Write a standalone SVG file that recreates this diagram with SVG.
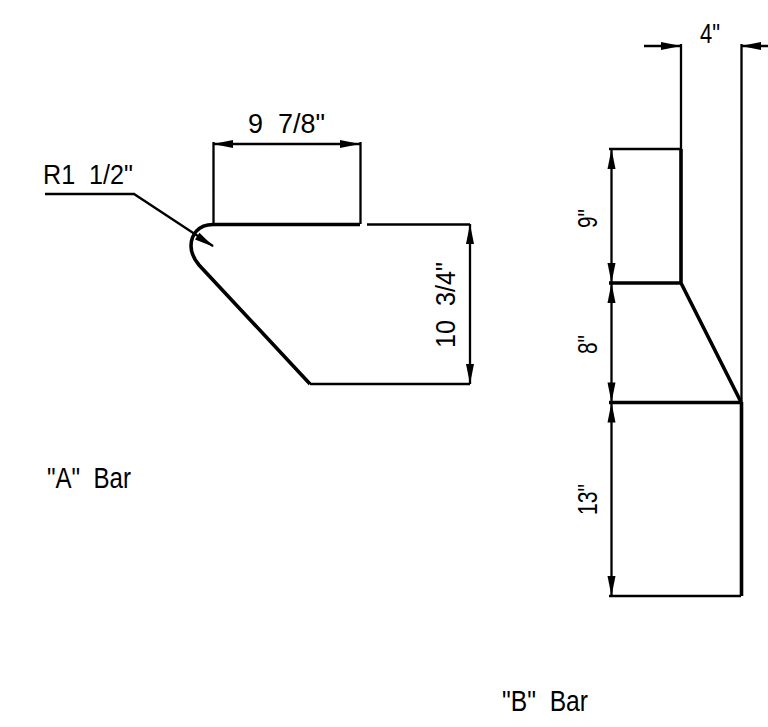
<svg xmlns="http://www.w3.org/2000/svg" width="768" height="727" viewBox="0 0 768 727">
<style>
.t{fill:none;stroke:#000;stroke-width:2.300}
.k{fill:none;stroke:#000;stroke-width:3.600}
.a{fill:#000;stroke:none}
text{font-family:"Liberation Sans",Arial,sans-serif;font-size:27px;fill:#000;white-space:pre}
.l{font-size:30px}
</style>
<defs>
<polygon id="ah" class="a" points="0,0 -20,-4 -20,4"/>
</defs>
<rect width="768" height="727" fill="#fff"/>
<g id="connectors">
<path class="t" d="M213.500 142V224M360.500 142V224M213 144H360M367 224.500H470M310 384H470M470 224V384M45 194H134L213 246"/>
<use href="#ah" transform="translate(213,144) rotate(180)"/>
<use href="#ah" transform="translate(360,144)"/>
<use href="#ah" transform="translate(470,224) rotate(-90)"/>
<use href="#ah" transform="translate(470,384) rotate(90)"/>
<use href="#ah" transform="translate(214,247) rotate(33)"/>
<path class="t" d="M681 44V149M741.500 44V402M644 46H681M768 46H741M609 149H681M611.500 149V596M609 596H741"/>
<use href="#ah" transform="translate(681,46)"/>
<use href="#ah" transform="translate(741,46) rotate(180)"/>
<use href="#ah" transform="translate(611.500,149) rotate(-90)"/>
<use href="#ah" transform="translate(611.500,283) rotate(90)"/>
<use href="#ah" transform="translate(611.500,283) rotate(-90)"/>
<use href="#ah" transform="translate(611.500,402.500) rotate(90)"/>
<use href="#ah" transform="translate(611.500,402.500) rotate(-90)"/>
<use href="#ah" transform="translate(611.500,596) rotate(90)"/>
</g>
<g id="bar-a">
<path class="k" d="M360 224.500H213C198 224.500 191 235 191 246C191 254 194 259 199 265L310 384"/>
<text x="248" y="133" textLength="77" lengthAdjust="spacingAndGlyphs">9  7/8"</text>
<text x="43" y="184" textLength="90" lengthAdjust="spacingAndGlyphs">R1  1/2"</text>
<text transform="translate(455,348) rotate(-90)" textLength="86" lengthAdjust="spacingAndGlyphs">10  3/4"</text>
<text class="l" x="47" y="488" textLength="84" lengthAdjust="spacingAndGlyphs">"A"  Bar</text>
</g>
<g id="bar-b">
<path class="k" d="M681 149V283H609M681 283L741 402M609 402.500H741M741.500 402V596"/>
<text x="700" y="43" font-size="28" textLength="20" lengthAdjust="spacingAndGlyphs">4"</text>
<text transform="translate(597,228) rotate(-90)" textLength="19" lengthAdjust="spacingAndGlyphs">9"</text>
<text transform="translate(597,354) rotate(-90)" textLength="19" lengthAdjust="spacingAndGlyphs">8"</text>
<text transform="translate(597,515) rotate(-90)" textLength="31" lengthAdjust="spacingAndGlyphs">13"</text>
<text class="l" x="502" y="711" textLength="86" lengthAdjust="spacingAndGlyphs">"B"  Bar</text>
</g>
</svg>
